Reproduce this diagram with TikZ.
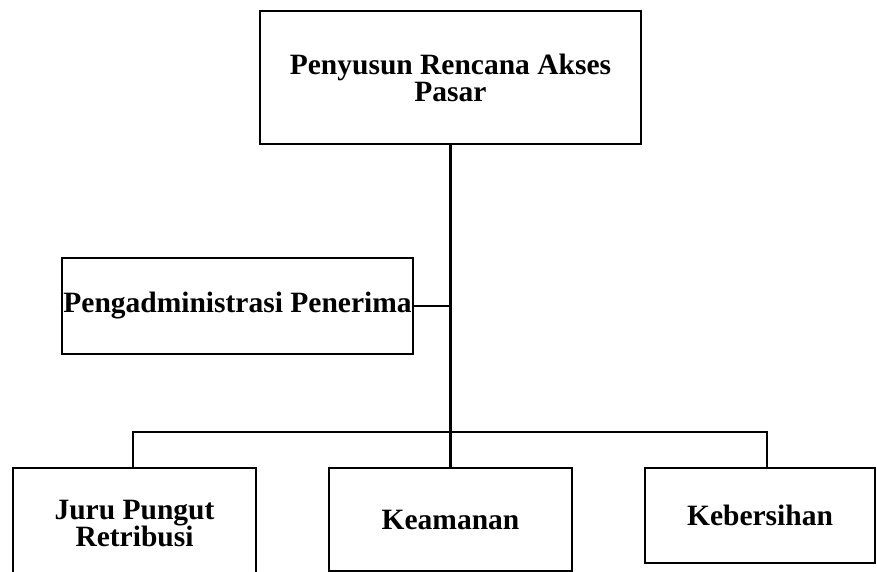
\documentclass[tikz,border=0pt]{standalone}
\usepackage{fontspec}
\setmainfont{Liberation Serif}
\usepackage{tikz}

\begin{document}
\begin{tikzpicture}[x=1pt, y=-1pt,
        orgbox/.style={draw, line width=2pt, align=center, inner sep=1pt,
            font=\fontsize{29.5}{27}\selectfont\bfseries},
        orgline/.style={line width=2pt}]
        \useasboundingbox (0,0) rectangle (877,572);

        % Head
        \node[orgbox, minimum width=381pt, minimum height=133pt] (head) at (450.5,77.5) {Penyusun Rencana Akses\\Pasar};

        % Staff
        \node[orgbox, minimum width=351pt, minimum height=96pt] (admin) at (237.5,306) {Pengadministrasi Penerima};

        % Units
        \node[orgbox, minimum width=243pt, minimum height=112pt] (juru) at (134.5,524) {Juru Pungut\\Retribusi};
        \node[orgbox, minimum width=243pt, minimum height=103pt] (aman) at (450.5,519.5) {Keamanan};
        \node[orgbox, minimum width=230pt, minimum height=95pt] (bersih) at (760,515.5) {Kebersihan};

        % Bus
        \coordinate (busL) at (133,432);
        \coordinate (busR) at (767,432);

        % Lines
        \draw[line width=3pt] (head.south) -- (aman.north);
        \draw[orgline] (admin.east) -- (admin.east -| head.south);
        \draw[orgline] (juru.north -| busL) -- (busL) -- (busR) -- (bersih.north -| busR);
    \end{tikzpicture}
\end{document}
